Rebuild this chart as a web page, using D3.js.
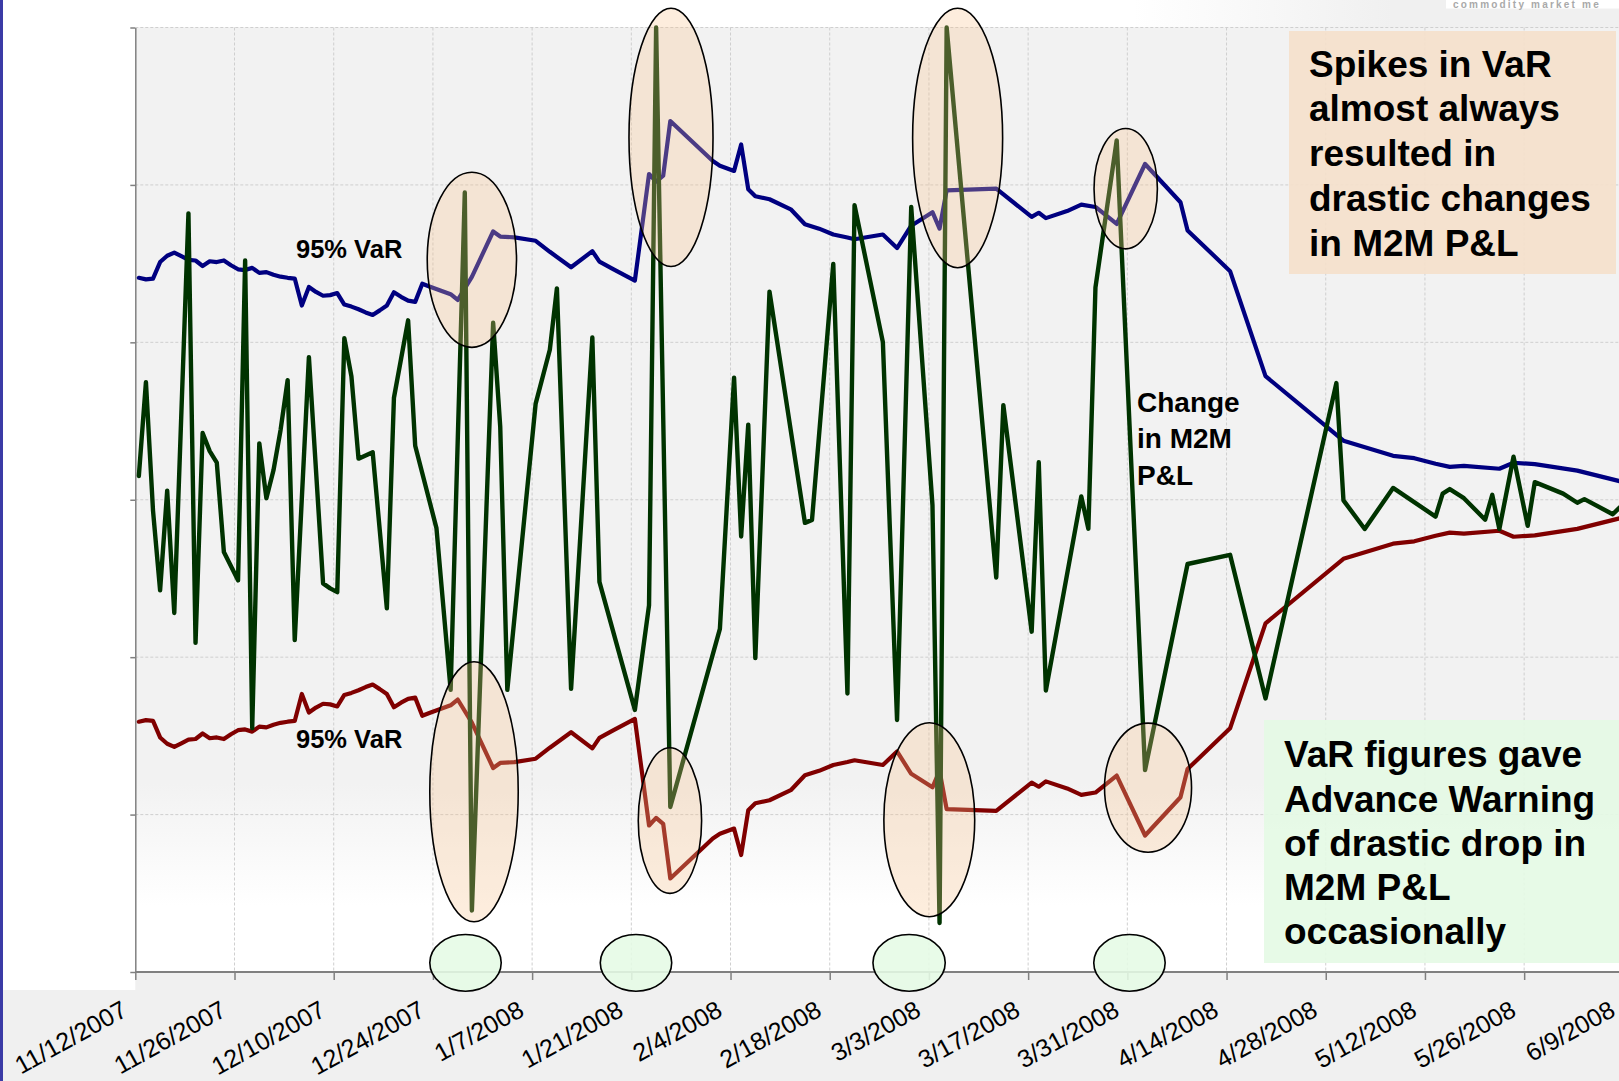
<!DOCTYPE html>
<html><head><meta charset="utf-8">
<script src="https://cdn.jsdelivr.net/npm/d3@7"></script>
<style>
html,body{margin:0;padding:0;background:#fff;}
svg{display:block;font-family:"Liberation Sans",Arial,sans-serif;}
</style></head>
<body>
<svg id="chart" width="1619" height="1081"></svg>
<script>
// ---------- data ----------
// x categories: day offset from 11/12/2007 (one category per day)
const tickLabels = ["11/12/2007","11/26/2007","12/10/2007","12/24/2007","1/7/2008","1/21/2008","2/4/2008","2/18/2008","3/3/2008","3/17/2008","3/31/2008","4/14/2008","4/28/2008","5/12/2008","5/26/2008","6/9/2008"];
const tickDays = [0,14,28,42,56,70,84,98,112,126,140,154,168,182,196,210];

// 95% VaR (drawn as +VaR above and -VaR below the zero line)
const varDays = [0,1,2,3,4,5,6,7,8,9,10,11,12,13,14,15,16,17,18,19,20,21,22,23,24,25,26,27,28,29,30,31,32,33,34,35,36,37,38,39,40,41,44,45,47,50,51,53,56,58,61,64,65,67,70,72,73,74,75,81,82,84,85,86,87,89,92,94,96,98,100,101,105,107,109,112,113,114,121,126,127,128,131,133,135,138,142,147,148,154,159,170,177,180,183,185,187,192,194,197,203,209];
const varValues = [1.41,1.40,1.405,1.51,1.55,1.57,1.547,1.524,1.52,1.485,1.515,1.51,1.52,1.49,1.464,1.459,1.473,1.441,1.446,1.429,1.417,1.41,1.405,1.234,1.352,1.32,1.296,1.30,1.313,1.24,1.227,1.21,1.19,1.174,1.203,1.234,1.318,1.289,1.265,1.257,1.372,1.355,1.306,1.269,1.416,1.704,1.672,1.667,1.645,1.575,1.477,1.579,1.513,1.464,1.392,2.069,2.021,2.059,2.406,2.152,2.122,2.089,2.257,1.973,1.928,1.909,1.845,1.75,1.722,1.685,1.666,1.655,1.685,1.599,1.741,1.827,1.722,1.965,1.976,1.797,1.823,1.789,1.834,1.875,1.86,1.752,2.133,1.89,1.711,1.452,0.785,0.375,0.279,0.264,0.229,0.209,0.215,0.197,0.235,0.226,0.185,0.118];

// Change in M2M P&L
const pnlDays = [0,1,2,3,4,5,7,8,9,10,11,12,14,15,16,17,18,19,20,21,22,24,26,27,28,29,30,31,33,35,36,38,39,42,44,46,47,50,51,52,56,58,59,61,64,65,70,72,73,75,82,84,85,86,87,89,94,95,98,100,101,105,107,109,112,113,114,121,122,126,127,128,133,134,135,138,142,148,154,159,169,170,173,177,183,184,185,187,190,191,192,194,196,197,201,203,204,208,209];
const pnlValues = [0.151,0.747,-0.069,-0.575,0.058,-0.719,1.819,-0.909,0.424,0.309,0.236,-0.332,-0.512,1.52,-1.452,0.358,0.01,0.187,0.443,0.76,-0.892,0.906,-0.531,-0.563,-0.587,1.027,0.784,0.261,0.302,-0.69,0.648,1.14,0.343,-0.18,-1.208,1.952,-2.609,1.124,0.465,-1.208,0.611,0.953,1.343,-1.201,1.031,-0.522,-1.335,-0.67,3.0,-1.952,-0.82,0.776,-0.233,0.477,-1.006,1.322,-0.147,-0.128,1.498,-1.231,1.871,1.001,-1.399,1.86,-0.035,-2.689,3.0,-0.494,0.601,-0.838,0.238,-1.212,0.021,-0.184,1.348,2.283,-1.717,-0.408,-0.35,-1.262,0.741,-0.004,-0.186,0.075,-0.107,0.039,0.068,0.01,-0.127,0.031,-0.186,0.273,-0.166,0.112,0.039,-0.019,0.004,-0.092,-0.048];

// annotations: [centre day, centre value, radius in days, radius in value units]
const spikeEllipses = [[47.5,1.524,6.3,0.556],[47.8,-1.855,6.24,0.826],[75.6,2.302,5.93,0.82],[75.45,-2.038,4.47,0.4625],[116.05,2.298,6.35,0.824],[112.05,-2.033,6.41,0.616],[139.77,1.976,4.47,0.382],[142.92,-1.829,6.14,0.41]];
const warningCircles = [[46.6,-2.942,5.04,0.18],[70.66,-2.942,5.04,0.18],[109.2,-2.942,5.1,0.18],[140.3,-2.942,5.04,0.18]];
const spikesText = ["Spikes in VaR","almost always","resulted in","drastic changes","in M2M P&L"];
const warningText = ["VaR figures gave","Advance Warning","of drastic drop in","M2M P&L","occasionally"];
const pnlLabel = ["Change","in M2M","P&L"];

// ---------- drawing ----------
const W = 1619, H = 1081;
const svg = d3.select("#chart");
const x = d3.scaleLinear().domain([0,210]).range([135.3, 135.3 + 210*7.086]);
const y = d3.scaleLinear().domain([-3,3]).range([972, 27.5]);
const X0 = x(0), XR = W, YT = y(3), YB = y(-3);

const defs = svg.append("defs");
const pg = defs.append("linearGradient").attr("id","plotGrad").attr("gradientUnits","userSpaceOnUse")
  .attr("x1",0).attr("x2",0).attr("y1",YT).attr("y2",YB);
pg.append("stop").attr("offset",0).attr("stop-color","#f2f2f2");
pg.append("stop").attr("offset",0.8).attr("stop-color","#f2f2f2");
pg.append("stop").attr("offset",0.93).attr("stop-color","#ffffff");
pg.append("stop").attr("offset",1).attr("stop-color","#ffffff");
const tg = defs.append("linearGradient").attr("id","topGrad").attr("gradientUnits","userSpaceOnUse")
  .attr("x1",0).attr("x2",W).attr("y1",0).attr("y2",0);
tg.append("stop").attr("offset",0).attr("stop-color","#ffffff");
tg.append("stop").attr("offset",0.7).attr("stop-color","#ffffff");
tg.append("stop").attr("offset",0.86).attr("stop-color","#f0f0f0");
tg.append("stop").attr("offset",1).attr("stop-color","#f0f0f0");
defs.append("clipPath").attr("id","plotClip").append("rect")
  .attr("x",X0).attr("y",YT-6).attr("width",XR-X0).attr("height",YB-YT+6);

// backgrounds
svg.append("rect").attr("width",W).attr("height",H).attr("fill","#f0f0f0");
svg.append("rect").attr("x",0).attr("y",0).attr("width",X0).attr("height",990).attr("fill","#ffffff");
svg.append("rect").attr("x",0).attr("y",0).attr("width",W).attr("height",YT).attr("fill","url(#topGrad)");
svg.append("rect").attr("x",X0).attr("y",YT).attr("width",XR-X0).attr("height",YB-YT).attr("fill","url(#plotGrad)");
svg.append("rect").attr("x",0).attr("y",0).attr("width",3).attr("height",H).attr("fill","#3b3ba6");

// watermark
svg.append("rect").attr("x",1446).attr("y",0).attr("width",W-1446).attr("height",8.5).attr("fill","#ffffff");
svg.append("text").attr("x",1453).attr("y",7.5).attr("font-size",10).attr("font-weight","bold")
  .attr("letter-spacing",2.2).attr("fill","#a9a9a9").text("commodity market me");

// gridlines
const grid = svg.append("g");
grid.selectAll("line.h").data(d3.range(-2,4)).join("line")
  .attr("x1",X0).attr("x2",XR).attr("y1",d=>y(d)).attr("y2",d=>y(d))
  .attr("stroke","#cfcfcf").attr("stroke-width",1).attr("stroke-dasharray","3,2");
grid.selectAll("line.v").data(tickDays.slice(1)).join("line")
  .attr("x1",d=>x(d)).attr("x2",d=>x(d)).attr("y1",YT).attr("y2",YB)
  .attr("stroke","#cfcfcf").attr("stroke-width",1).attr("stroke-dasharray","3,2");

// axes
const xAxis = svg.append("g").attr("transform",`translate(0,${YB})`)
  .call(d3.axisBottom(x).tickValues(tickDays).tickFormat((d,i)=>tickLabels[i]).tickSize(8).tickSizeOuter(0));
xAxis.select(".domain").attr("stroke","#808080").attr("stroke-width",2).attr("d",`M${X0},0H${XR}`);
xAxis.selectAll(".tick line").attr("stroke","#808080").attr("stroke-width",1.5);
xAxis.selectAll(".tick text").attr("font-size",25).attr("fill","#000")
  .attr("font-family","'Liberation Sans',Arial,sans-serif")
  .attr("text-anchor","end").attr("dy",null).attr("y",null)
  .attr("transform","translate(-7,43) rotate(-29)");
const yAxis = svg.append("g").attr("transform",`translate(${X0},0)`)
  .call(d3.axisLeft(y).tickValues(d3.range(-3,4)).tickFormat("").tickSize(5).tickSizeOuter(0));
yAxis.select(".domain").attr("stroke","#808080").attr("stroke-width",1.5);
yAxis.selectAll(".tick line").attr("stroke","#808080").attr("stroke-width",1.5);

// series
const varData = varDays.map((d,i)=>({d, v:varValues[i]}));
const pnlData = pnlDays.map((d,i)=>({d, v:pnlValues[i]}));
const lineUp = d3.line().x(p=>x(p.d+0.5)).y(p=>y(p.v));
const lineDn = d3.line().x(p=>x(p.d+0.5)).y(p=>y(-p.v));
const series = svg.append("g").attr("clip-path","url(#plotClip)");
series.append("path").datum(varData).attr("d",lineDn).attr("fill","none")
  .attr("stroke","#800000").attr("stroke-width",4.2).attr("stroke-linejoin","round").attr("stroke-linecap","round");
series.append("path").datum(varData).attr("d",lineUp).attr("fill","none")
  .attr("stroke","#000080").attr("stroke-width",4.2).attr("stroke-linejoin","round").attr("stroke-linecap","round");
series.append("path").datum(pnlData).attr("d",lineUp).attr("fill","none")
  .attr("stroke","#003300").attr("stroke-width",4.4).attr("stroke-linejoin","round").attr("stroke-linecap","round");

// annotation ellipses
const kx = x(1)-x(0), ky = y(0)-y(1);
svg.append("g").selectAll("ellipse").data(spikeEllipses).join("ellipse")
  .attr("cx",d=>x(d[0])).attr("cy",d=>y(d[1])).attr("rx",d=>d[2]*kx).attr("ry",d=>d[3]*ky)
  .attr("fill","#f9c58f").attr("fill-opacity",0.3).attr("stroke","#000").attr("stroke-width",1.6);
svg.append("g").selectAll("ellipse").data(warningCircles).join("ellipse")
  .attr("cx",d=>x(d[0])).attr("cy",d=>y(d[1])).attr("rx",d=>d[2]*kx).attr("ry",d=>d[3]*ky)
  .attr("fill","#e5fae5").attr("fill-opacity",0.88).attr("stroke","#000").attr("stroke-width",1.6);

// text boxes
svg.append("rect").attr("x",1289).attr("y",31).attr("width",327).attr("height",243)
  .attr("fill","#f5e0cb").attr("fill-opacity",0.9);
svg.append("g").selectAll("text").data(spikesText).join("text")
  .attr("x",1309).attr("y",(d,i)=>76.7+i*44.75).attr("font-size",37).attr("font-weight","bold")
  .attr("fill","#000").text(d=>d);
svg.append("rect").attr("x",1264).attr("y",720).attr("width",W-1264).attr("height",243)
  .attr("fill","#e4fae4").attr("fill-opacity",0.9);
svg.append("g").selectAll("text").data(warningText).join("text")
  .attr("x",1284).attr("y",(d,i)=>767.3+i*44.25).attr("font-size",37).attr("font-weight","bold")
  .attr("fill","#000").text(d=>d);

// series labels
svg.append("text").attr("x",296).attr("y",258).attr("font-size",25.5).attr("font-weight","bold").text("95% VaR");
svg.append("text").attr("x",296).attr("y",748).attr("font-size",25.5).attr("font-weight","bold").text("95% VaR");
svg.append("g").selectAll("text").data(pnlLabel).join("text")
  .attr("x",1137).attr("y",(d,i)=>412+i*36.4).attr("font-size",28).attr("font-weight","bold")
  .attr("fill","#000").text(d=>d);
</script>
</body></html>
